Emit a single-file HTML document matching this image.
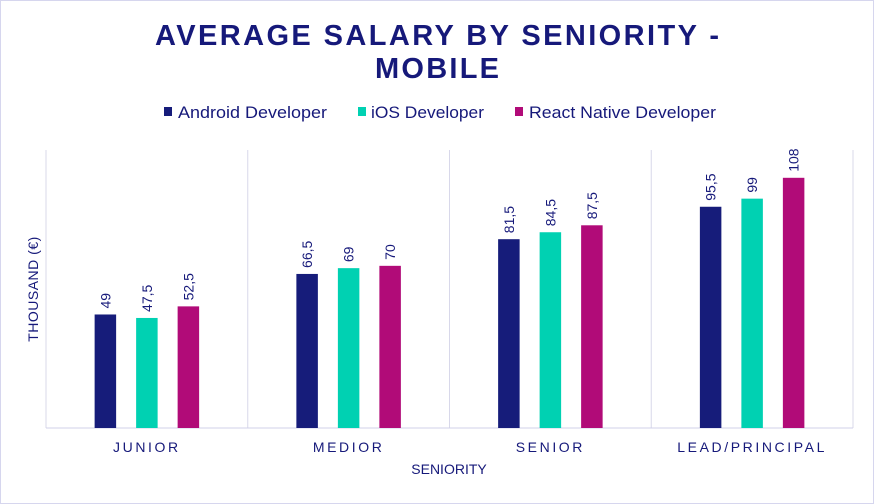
<!DOCTYPE html>
<html><head><meta charset="utf-8"><style>
html,body{margin:0;padding:0;background:#fff}
svg{display:block;font-family:"Liberation Sans",sans-serif}
</style></head><body>
<svg id="chart" width="874" height="504" viewBox="0 0 874 504">
<rect x="0.5" y="0.5" width="873" height="503" fill="#fff" stroke="#d6d6ee"/>
<text x="437" y="45" text-anchor="middle" font-size="29" font-weight="bold" fill="#16197a" textLength="564" lengthAdjust="spacing">AVERAGE SALARY BY SENIORITY -</text>
<text x="437" y="78" text-anchor="middle" font-size="29" font-weight="bold" fill="#16197a" textLength="124" lengthAdjust="spacing">MOBILE</text>
<g>
<rect x="164" y="107" width="8" height="9" fill="#161c7a"/>
<text x="178" y="118" font-size="16.5" fill="#16197a" textLength="149" lengthAdjust="spacingAndGlyphs">Android Developer</text>
<rect x="358" y="107" width="8" height="9" fill="#00d1b2"/>
<text x="371" y="118" font-size="16.5" fill="#16197a" textLength="113" lengthAdjust="spacingAndGlyphs">iOS Developer</text>
<rect x="515" y="107" width="8" height="9" fill="#b10b78"/>
<text x="529" y="118" font-size="16.5" fill="#16197a" textLength="187" lengthAdjust="spacingAndGlyphs">React Native Developer</text>
</g>
<text transform="translate(38,289) rotate(-90)" text-anchor="middle" font-size="14" fill="#16197a" letter-spacing="0.5">THOUSAND (€)</text>
<text x="449" y="474" text-anchor="middle" font-size="14" fill="#16197a">SENIORITY</text>
<g id="plot"></g>
</svg>
<script>
const categories = ["JUNIOR","MEDIOR","SENIOR","LEAD/PRINCIPAL"];
const android = [49, 66.5, 81.5, 95.5];
const ios = [47.5, 69, 84.5, 99];
const reactNative = [52.5, 70, 87.5, 108];
const seriesNames = ["android","ios","react-native"];
const colors = ["#161c7a","#00d1b2","#b10b78"];
const NS = "http://www.w3.org/2000/svg";
const L = 46, R = 853, T = 150, B = 428, YMAX = 120;
const gw = (R - L) / categories.length;
const y = v => B - v / YMAX * (B - T);
const xc = i => L + gw * (i + 0.5);
const plot = document.getElementById('plot');
function mk(tag, attrs){const e=document.createElementNS(NS,tag);for(const k in attrs)e.setAttribute(k,attrs[k]);plot.appendChild(e);return e;}
for (let i = 0; i <= categories.length; i++) {
  const ln = mk('line',{x1:L+gw*i,x2:L+gw*i,y1:T,y2:B,stroke:'#d8d8ea','stroke-width':1});
  
  
}
const base = mk('line',{x1:L,x2:R,y1:B,y2:B,stroke:'#d0d0e8','stroke-width':1});


const all = [android, ios, reactNative];
categories.forEach((c, i) => {
  const t = mk('text',{x:xc(i),y:452,'text-anchor':'middle','font-size':14,fill:'#16197a','letter-spacing':2.6});
  t.textContent = c;
  
  
  all.forEach((s, k) => {
    const cx = xc(i) + (k - 1) * 41.5;
    const v = s[i];
    const r = mk('rect',{x:cx-10.75,y:y(v),width:21.5,height:B-y(v),fill:colors[k]});
    
    
    const lb = mk('text',{transform:`translate(${cx+5},${y(v)-6}) rotate(-90)`,'font-size':14,fill:'#16197a'});
    lb.textContent = String(v).replace('.', ',');
    
    
  });
});
</script>
</body></html>
